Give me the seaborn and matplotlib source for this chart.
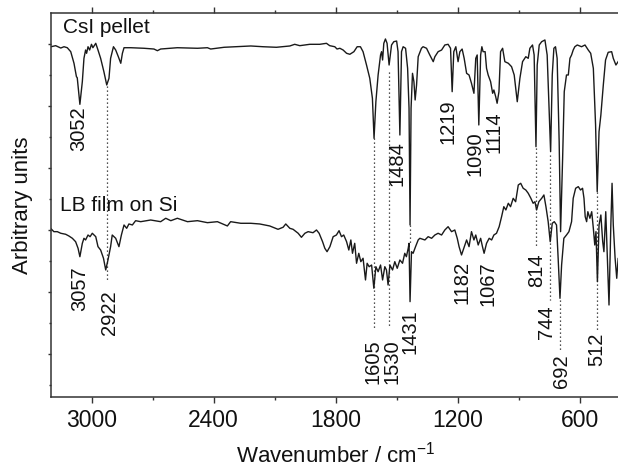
import matplotlib
matplotlib.use("Agg")
import matplotlib.pyplot as plt
import seaborn as sns
import pandas as pd

# ---------------- data ----------------
csi_wn = [3200, 3177, 3152, 3136, 3120, 3103, 3087, 3075, 3071, 3058, 3046, 3038, 3030, 3025,
          3018, 3010, 3001, 2994, 2980, 2969, 2956, 2940, 2926, 2915, 2907, 2893, 2882, 2869,
          2857, 2849, 2841, 2808, 2743, 2694, 2677, 2661, 2579, 2480, 2431, 2415, 2349, 2218,
          2158, 2092, 2026, 2002, 1977, 1952, 1928, 1879, 1846, 1830, 1805, 1794, 1780, 1764,
          1747, 1731, 1711, 1695, 1679, 1666, 1649, 1633, 1620, 1612, 1603, 1592, 1580, 1575,
          1570, 1564, 1556, 1548, 1538, 1526, 1515, 1501, 1494, 1485, 1477, 1469, 1457, 1447,
          1440, 1435, 1430, 1423, 1416, 1410, 1403, 1395, 1379, 1371, 1354, 1338, 1321, 1313,
          1297, 1280, 1264, 1248, 1236, 1228, 1220, 1210, 1199, 1190, 1179, 1169, 1157, 1145,
          1133, 1121, 1112, 1105, 1097, 1088, 1082, 1076, 1066, 1059, 1051, 1039, 1029, 1023,
          1014, 1007, 998, 990, 980, 969, 952, 936, 923, 908, 895, 882, 866, 854, 846, 833, 825,
          816, 810, 800, 788, 772, 761, 744, 736, 728, 720, 712, 702, 695, 685, 677, 666, 657,
          649, 641, 633, 625, 613, 592, 575, 559, 547, 534, 523, 515, 506, 497, 485, 474, 461,
          444, 436, 423, 410]
csi_int = [4.956, 4.973, 4.935, 4.956, 4.940, 4.876, 4.689, 4.473, 4.456, 4.027, 4.392, 4.769,
           4.903, 4.850, 4.956, 4.903, 4.995, 4.940, 5.011, 4.903, 4.769, 4.553, 4.339, 4.447,
           4.769, 4.956, 4.903, 4.795, 4.689, 4.850, 4.940, 4.940, 4.931, 4.919, 4.892, 4.919,
           4.940, 4.931, 4.940, 4.919, 4.947, 4.968, 4.956, 4.947, 4.968, 4.995, 4.973, 4.984,
           4.995, 4.995, 5.011, 4.973, 4.956, 4.919, 4.931, 4.903, 4.850, 4.834, 4.876, 4.956,
           4.956, 4.876, 4.661, 4.447, 4.124, 3.479, 4.069, 4.500, 4.823, 4.876, 4.742, 5.011,
           5.081, 5.011, 4.661, 4.984, 5.037, 5.048, 4.876, 3.532, 4.876, 4.956, 4.931, 4.608,
           3.963, 2.081, 3.963, 4.527, 4.392, 4.097, 4.339, 4.795, 4.931, 4.956, 4.931, 4.823,
           4.715, 4.795, 4.876, 4.903, 4.984, 4.995, 4.931, 4.231, 4.876, 4.956, 4.715, 4.876,
           4.919, 4.769, 4.527, 4.500, 4.366, 4.205, 4.769, 4.823, 3.694, 4.823, 4.956, 4.876,
           4.876, 4.608, 4.500, 4.392, 4.205, 4.258, 4.150, 4.044, 4.231, 4.876, 4.931, 4.715,
           4.689, 4.634, 4.500, 4.069, 4.447, 4.715, 4.795, 4.769, 4.931, 4.984, 4.823, 3.344,
           4.661, 4.984, 5.037, 5.065, 4.823, 3.263, 4.500, 4.931, 4.956, 4.769, 3.424, 1.973,
           3.156, 4.231, 4.500, 4.500, 4.769, 4.823, 4.903, 4.956, 4.984, 4.956, 4.984, 4.903,
           4.850, 4.608, 3.694, 2.618, 3.585, 3.855, 4.339, 4.742, 4.866, 4.876, 4.769, 4.661,
           4.726]

lb_wn = [3202, 3186, 3169, 3152, 3128, 3112, 3095, 3079, 3067, 3058, 3046, 3038, 3030, 3018,
         3008, 2997, 2980, 2969, 2956, 2942, 2931, 2920, 2907, 2899, 2882, 2866, 2854, 2841,
         2828, 2817, 2800, 2784, 2759, 2710, 2661, 2636, 2611, 2579, 2529, 2480, 2431, 2382,
         2333, 2317, 2267, 2218, 2174, 2125, 2084, 2059, 2046, 2026, 2010, 1985, 1969, 1952,
         1936, 1912, 1895, 1882, 1865, 1854, 1843, 1829, 1813, 1797, 1784, 1772, 1761, 1747,
         1736, 1726, 1718, 1707, 1698, 1687, 1677, 1666, 1654, 1646, 1636, 1624, 1613, 1603,
         1592, 1580, 1570, 1559, 1551, 1543, 1534, 1521, 1510, 1498, 1485, 1472, 1461, 1453,
         1444, 1440, 1435, 1428, 1420, 1408, 1395, 1387, 1362, 1346, 1329, 1313, 1297, 1280,
         1264, 1248, 1231, 1215, 1203, 1194, 1182, 1171, 1157, 1145, 1133, 1121, 1112, 1100,
         1088, 1079, 1071, 1059, 1046, 1034, 1023, 1010, 997, 985, 974, 964, 952, 941, 928,
         916, 903, 891, 879, 866, 854, 841, 830, 821, 813, 802, 788, 777, 767, 756, 746, 736,
         726, 715, 707, 698, 690, 679, 666, 654, 641, 633, 621, 608, 597, 587, 580, 574, 567,
         561, 551, 542, 534, 527, 521, 514, 506, 497, 488, 482, 473, 465, 457, 448, 442, 436,
         427, 419, 412]
lb_int = [2.027, 1.973, 1.973, 1.947, 1.931, 1.903, 1.866, 1.811, 1.705, 1.569, 1.785, 1.866,
          1.839, 1.919, 1.892, 1.947, 1.892, 1.731, 1.677, 1.544, 1.355, 1.516, 1.731, 1.919,
          1.866, 1.731, 1.919, 2.081, 2.027, 2.097, 2.081, 2.150, 2.134, 2.161, 2.134, 2.189,
          2.150, 2.189, 2.134, 2.150, 2.118, 2.134, 2.065, 2.134, 2.108, 2.108, 2.097, 2.065,
          2.011, 2.044, 2.097, 2.027, 2.011, 1.947, 1.882, 1.947, 1.973, 1.956, 2.000, 1.947,
          1.811, 1.705, 1.650, 1.731, 1.892, 1.919, 1.989, 1.892, 1.919, 1.811, 1.677, 1.839,
          1.624, 1.785, 1.463, 1.624, 1.489, 1.544, 1.194, 1.463, 1.408, 1.435, 1.060, 1.408,
          1.327, 1.435, 1.194, 1.408, 1.355, 1.113, 1.435, 1.355, 1.489, 1.382, 1.516, 1.463,
          1.624, 1.569, 1.705, 1.785, 0.844, 1.650, 1.624, 1.731, 1.839, 1.866, 1.839, 1.892,
          1.866, 1.919, 1.947, 1.919, 2.000, 2.053, 1.973, 2.000, 1.866, 1.731, 1.597, 1.705,
          1.839, 1.731, 1.973, 1.839, 1.919, 1.758, 1.866, 1.731, 1.624, 1.785, 1.866, 1.839,
          1.919, 1.947, 2.053, 2.215, 2.376, 2.323, 2.431, 2.376, 2.511, 2.456, 2.726, 2.753,
          2.673, 2.645, 2.592, 2.511, 2.431, 2.456, 2.323, 2.456, 2.511, 2.565, 2.376, 2.134,
          1.811, 2.108, 2.134, 2.081, 1.544, 0.898, 1.435, 1.866, 1.919, 1.973, 2.134, 2.511,
          2.673, 2.699, 2.645, 2.673, 2.511, 2.215, 2.134, 2.295, 2.189, 2.295, 2.027, 1.758,
          1.973, 1.166, 2.081, 2.242, 1.811, 1.650, 2.295, 1.544, 0.790, 2.081, 2.753, 2.081,
          1.544, 1.221, 1.544]

# peak labels (text, wavenumber of label centre, top of label)
csi_labels = ["3052", "1219", "1090", "1114", "1484"]
csi_label_wn = [3066, 1249, 1116, 1023, 1500]
csi_label_top = [4.00, 4.11, 3.59, 3.91, 3.43]

lb_labels = ["3057", "2922", "1605", "1530", "1431", "1182", "1067", "814", "744", "692", "512"]
lb_label_wn = [3059, 2911, 1618, 1525, 1436, 1180, 1052, 812, 762, 689, 516]
lb_label_top = [1.41, 1.03, 0.24, 0.24, 0.72, 1.50, 1.50, 1.62, 0.79, 0.00, 0.34]

# dotted guide lines (wavenumber, upper end, lower end)
guide_wn = [2926, 1613, 1540, 1436, 816, 748, 698, 515]
guide_top = [4.32, 3.48, 4.55, 2.08, 3.32, 3.21, 0.87, 2.61]
guide_bot = [1.16, 0.39, 0.44, 1.79, 1.71, 0.87, 0.06, 0.39]

# ---------------- figure ----------------
sns.set_style("ticks")
plt.rcParams["font.family"] = ["Liberation Sans", "DejaVu Sans"]
plt.rcParams["mathtext.fontset"] = "custom"
plt.rcParams["mathtext.rm"] = "Liberation Sans"
plt.rcParams["mathtext.it"] = "Liberation Sans:italic"
plt.rcParams["mathtext.bf"] = "Liberation Sans:bold"

fig = plt.figure(figsize=(6.18, 4.71), dpi=100)
ax = fig.add_axes([51 / 618, 74 / 471, 569.6 / 618, 384 / 471])

line_col = "#1a1a1a"
df_csi = pd.DataFrame({"wn": csi_wn, "val": csi_int})
df_lb = pd.DataFrame({"wn": lb_wn, "val": lb_int})
sns.lineplot(data=df_csi, x="wn", y="val", sort=False, estimator=None, color=line_col,
             linewidth=1.0, ax=ax)
sns.lineplot(data=df_lb, x="wn", y="val", sort=False, estimator=None, color=line_col,
             linewidth=1.0, ax=ax)

for w, y0, y1 in zip(guide_wn, guide_top, guide_bot):
    ax.plot([w, w], [y0, y1], color=line_col, linewidth=0.9, linestyle=(0, (1, 2.2)))

for t, w, y in zip(csi_labels, csi_label_wn, csi_label_top):
    ax.text(w, y, t, rotation=90, ha="center", va="top", fontsize=14.5, color="#111111")
for t, w, y in zip(lb_labels, lb_label_wn, lb_label_top):
    ax.text(w, y, t, rotation=90, ha="center", va="top", fontsize=14.5, color="#111111")

ax.text(3143, 5.177, "CsI pellet", fontsize=15, va="baseline", ha="left", color="#111111")
ax.text(3157, 2.306, "LB film on Si", fontsize=15, va="baseline", ha="left", color="#111111")

ax.set_xlim(3200, 400)
ax.set_ylim(-0.694, 5.5)

ax.set_xticks([3000, 2400, 1800, 1200, 600])
ax.set_xticks([2700, 2100, 1500, 900], minor=True)
ax.set_yticks([0, 1, 2, 3, 4, 5])
ax.set_yticks([-0.5, 0.5, 1.5, 2.5, 3.5, 4.5], minor=True)
ax.set_yticklabels([])

ax.tick_params(axis="x", which="major", direction="out", length=4.5, width=1, colors="#333333",
               labelsize=16.5, labelcolor="#111111", pad=4, top=True)
ax.tick_params(axis="x", which="minor", direction="out", length=2.5, width=1, colors="#333333",
               top=True)
ax.tick_params(axis="y", which="major", direction="out", length=2.5, width=1, colors="#333333")
ax.tick_params(axis="y", which="minor", direction="out", length=1.5, width=1, colors="#333333")

for side in ["left", "bottom", "top"]:
    ax.spines[side].set_visible(True)
    ax.spines[side].set_color("#333333")
    ax.spines[side].set_linewidth(1.1)
ax.spines["right"].set_visible(False)

ax.set_xlabel("Wavenumber / cm$^{\\mathrm{-1}}$", fontsize=16, color="#111111", labelpad=7)
ax.set_ylabel("Arbitrary units", fontsize=16, color="#111111")
ax.yaxis.set_label_coords(-0.032, 0.5)

fig.savefig("out.png", dpi=100)
